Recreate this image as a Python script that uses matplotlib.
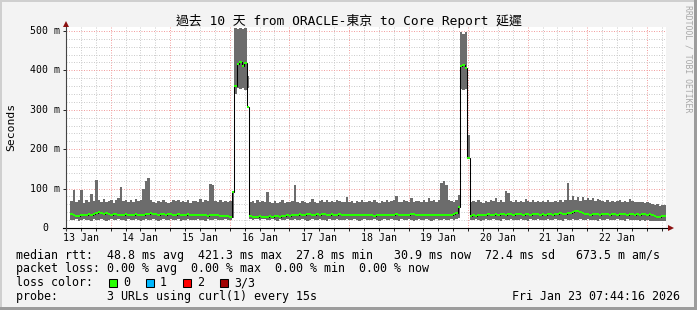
import numpy as np
import matplotlib
matplotlib.use("Agg")
import matplotlib.pyplot as plt
from matplotlib.patches import Rectangle
from matplotlib.lines import Line2D

# ---------------- data ----------------
title = "過去 10 天 from ORACLE-東京 to Core Report 延遲"
start_hour = 7 + 44 / 60 + 16 / 3600        # Jan 13 07:44:16
n_days = 10
day_labels = ["13 Jan", "14 Jan", "15 Jan", "16 Jan", "17 Jan",
              "18 Jan", "19 Jan", "20 Jan", "21 Jan", "22 Jan"]
y_ticks = [0, 100, 200, 300, 400, 500]
y_tick_labels = ["0", "100 m", "200 m", "300 m", "400 m", "500 m"]

# hourly values in ms (smoke top, smoke bottom, median)
smoke_top = [
    68, 96, 66, 70, 96, 64, 72, 66, 86, 68,
    122, 70, 66, 74, 65, 68, 72, 64, 70, 75,
    105, 68, 72, 65, 70, 66, 74, 68, 72, 100,
    118, 126, 70, 66, 64, 68, 65, 70, 66, 63,
    66, 70, 68, 72, 65, 68, 66, 70, 64, 69,
    68, 65, 74, 66, 70, 68, 112, 110, 69, 66,
    70, 67, 69, 66, 68, 95, 508, 505, 508, 504,
    507, 385, 66, 68, 64, 70, 66, 68, 65, 91,
    66, 64, 68, 63, 66, 70, 64, 67, 65, 68,
    109, 66, 64, 68, 65, 63, 67, 73, 66, 64,
    68, 70, 66, 72, 67, 69, 65, 70, 68, 66,
    67, 78, 66, 69, 64, 68, 66, 70, 65, 67,
    68, 66, 70, 67, 64, 69, 66, 71, 65, 68,
    70, 81, 67, 66, 70, 68, 65, 75, 66, 69,
    68, 66, 70, 67, 75, 68, 72, 66, 72, 115,
    120, 110, 72, 68, 66, 72, 84, 497, 493, 497,
    236, 66, 68, 65, 70, 67, 64, 69, 66, 70,
    68, 75, 66, 70, 67, 94, 88, 68, 66, 70,
    67, 69, 66, 73, 68, 65, 70, 67, 69, 66,
    68, 66, 70, 67, 65, 69, 67, 70, 66, 70,
    115, 72, 80, 70, 78, 68, 79, 72, 76, 70,
    77, 69, 74, 71, 68, 66, 70, 67, 69, 65,
    68, 70, 66, 69, 67, 73, 68, 66, 67, 65,
    66, 64, 65, 63, 62, 58, 60, 57, 59, 58,
]
smoke_bottom = [
    21, 20, 22, 19, 21, 22, 20, 21, 19, 22,
    21, 20, 22, 21, 19, 21, 22, 20, 21, 22,
    20, 21, 19, 22, 21, 20, 22, 21, 19, 21,
    22, 20, 21, 22, 20, 19, 21, 22, 20, 21,
    22, 21, 20, 22, 19, 21, 20, 22, 21, 20,
    21, 22, 20, 21, 19, 22, 21, 20, 22, 21,
    20, 21, 22, 20, 21, 26, 340, 355, 352, 355,
    350, 355, 22, 21, 23, 22, 21, 23, 22, 21,
    20, 22, 21, 19, 22, 21, 20, 22, 21, 20,
    22, 21, 20, 22, 21, 19, 21, 22, 20, 21,
    22, 20, 21, 19, 22, 21, 20, 22, 21, 20,
    21, 22, 20, 21, 22, 20, 19, 21, 22, 20,
    21, 20, 22, 21, 19, 21, 22, 20, 21, 22,
    20, 21, 19, 22, 21, 20, 22, 21, 19, 21,
    22, 20, 21, 22, 20, 19, 21, 22, 20, 21,
    22, 21, 20, 22, 21, 22, 25, 352, 350, 352,
    175, 21, 20, 22, 21, 19, 21, 22, 20, 21,
    22, 20, 21, 19, 22, 21, 20, 22, 21, 20,
    21, 22, 20, 21, 19, 22, 21, 20, 22, 21,
    20, 21, 22, 20, 21, 22, 20, 21, 19, 22,
    21, 20, 22, 21, 20, 22, 21, 20, 22, 21,
    20, 21, 19, 22, 21, 20, 22, 21, 20, 21,
    22, 20, 21, 19, 22, 21, 20, 21, 20, 19,
    20, 19, 20, 18, 19, 18, 19, 18, 19, 18,
]
median_rtt = [
    35, 34, 30, 31, 33, 34, 33, 35, 34, 36,
    38, 40, 37, 36, 39, 35, 34, 36, 35, 33,
    34, 33, 35, 32, 34, 33, 35, 34, 32, 34,
    36, 35, 37, 35, 36, 34, 35, 36, 34, 35,
    35, 34, 33, 35, 34, 32, 34, 35, 33, 34,
    33, 32, 34, 33, 32, 31, 33, 34, 32, 33,
    31, 30, 31, 30, 29, 92, 360, 415, 420, 410,
    418, 308, 31, 29, 28, 29, 30, 28, 29, 28,
    30, 29, 31, 30, 29, 31, 30, 32, 31, 33,
    33, 34, 35, 33, 34, 36, 35, 34, 33, 35,
    34, 36, 35, 33, 34, 35, 33, 34, 36, 34,
    33, 34, 32, 33, 34, 32, 33, 34, 33, 32,
    32, 33, 31, 32, 33, 32, 34, 33, 32, 34,
    33, 35, 34, 33, 32, 34, 33, 35, 36, 34,
    33, 32, 33, 34, 32, 33, 34, 33, 32, 33,
    34, 33, 32, 33, 35, 38, 53, 410, 413, 405,
    178, 31, 32, 31, 33, 32, 34, 33, 35, 34,
    33, 35, 34, 36, 35, 34, 35, 36, 34, 35,
    36, 35, 34, 36, 35, 34, 35, 36, 35, 34,
    35, 34, 36, 35, 34, 36, 35, 37, 36, 35,
    37, 38, 41, 43, 42, 40, 38, 36, 35, 34,
    35, 36, 35, 34, 35, 36, 35, 34, 36, 35,
    34, 35, 36, 35, 34, 36, 35, 34, 35, 34,
    35, 36, 34, 35, 34, 30, 29, 29, 30, 31,
]

legend_lines = [
    "median rtt:  48.8 ms avg  421.3 ms max  27.8 ms min   30.9 ms now  72.4 ms sd   673.5 m am/s",
    "packet loss: 0.00 % avg  0.00 % max  0.00 % min  0.00 % now",
    "loss color:",
    "probe:       3 URLs using curl(1) every 15s",
]
loss_labels = ["0", "1", "2", "3/3"]
loss_colors = ["#26ff00", "#00b8ff", "#ff0000", "#a00000"]
timestamp = "Fri Jan 23 07:44:16 2026"
watermark = "RRDTOOL / TOBI OETIKER"

# ---------------- figure ----------------
W, H = 697, 310
def fx(px):
    return px / W
def fy(py):
    return 1 - py / H

MONO = "DejaVu Sans Mono"
fig = plt.figure(figsize=(W / 100, H / 100), dpi=100, facecolor="#f3f3f3")

# 3D-ish border
fig.add_artist(Rectangle((0, fy(2)), 1, 2 / H, transform=fig.transFigure, color="#cfcfcf", lw=0))
fig.add_artist(Rectangle((0, 0), 2 / W, 1, transform=fig.transFigure, color="#cfcfcf", lw=0))
fig.add_artist(Rectangle((0, 0), 1, 3 / H, transform=fig.transFigure, color="#9c9c9c", lw=0))
fig.add_artist(Rectangle((1 - 3 / W, 0), 3 / W, 1, transform=fig.transFigure, color="#9c9c9c", lw=0))

ax = fig.add_axes([fx(66), fy(228), 600 / W, 201 / H])
ax.set_facecolor("white")
t0 = start_hour / 24
ax.set_xlim(t0, t0 + n_days)
ax.set_ylim(0, 510)
for s in ax.spines.values():
    s.set_visible(False)

# grid
ax.set_xticks(np.arange(1, n_days + 1))
ax.set_xticks(np.arange(0.25, n_days + 0.5, 0.25), minor=True)
ax.set_yticks(y_ticks)
ax.set_yticks(np.arange(0, 511, 20), minor=True)
ax.grid(which="minor", color="#cdcdcd", lw=0.72, ls=(0, (1, 1.5)), zorder=0)
ax.grid(which="major", color="#f2a0a0", lw=0.72, ls=(0, (1, 1.5)), zorder=0.5)
ax.set_axisbelow(True)
ax.tick_params(axis="both", which="both", labelbottom=False, labelleft=False)
ax.tick_params(axis="x", which="both", direction="out", length=2, width=0.7, color="#222222")
ax.tick_params(axis="y", which="major", direction="out", length=2, width=0.7, color="#222222")
ax.tick_params(axis="y", which="minor", length=0)

# smoke + median
hours = np.arange(len(median_rtt) + 1)
edges = t0 + hours / 24
ax.stairs(smoke_top, edges, baseline=smoke_bottom, fill=True, color="#6c6c6c", zorder=2)
ax.stairs(median_rtt, edges, baseline=None, color="black", lw=0.75, zorder=3)
ax.hlines(median_rtt, edges[:-1], edges[1:], color=loss_colors[0], lw=1.45,
          zorder=4, capstyle="butt")

# axes lines + arrows
ax.add_line(Line2D([-0.005, 1.008], [0, 0], transform=ax.transAxes, color="black",
                   lw=0.8, clip_on=False, zorder=5))
ax.add_line(Line2D([0, 0], [-0.012, 1.015], transform=ax.transAxes, color="#444444",
                   lw=0.8, clip_on=False, zorder=5))
ax.plot([1.008], [0], marker=">", ms=4, color="#8b1010", transform=ax.transAxes,
        clip_on=False, zorder=6, mew=0)
ax.plot([0], [1.015], marker="^", ms=4, color="#8b1010", transform=ax.transAxes,
        clip_on=False, zorder=6, mew=0)

# tick labels
ytr = ax.get_yaxis_transform()
for v, lab in zip(y_ticks, y_tick_labels):
    xr = (59.5 - 66) / 600 if lab != "0" else (48.5 - 66) / 600
    ax.text(xr, v, lab, transform=ytr, ha="right", va="center",
            fontsize=7.1, family=MONO, color="#000000")
xtr = ax.get_xaxis_transform()
for d, lab in enumerate(day_labels):
    ax.text(d + 0.5, -10 / 201, lab, transform=xtr, ha="center", va="center",
            fontsize=7.1, family=MONO, color="#000000")

# titles
fig.text(fx(348.5), fy(21), title, ha="center", va="center", fontsize=9.3,
         family=[MONO, "Noto Sans CJK TC"], color="#000000")
fig.text(fx(11), fy(127), "Seconds", rotation=90, ha="center", va="center",
         fontsize=8.2, family=MONO, color="#000000")
fig.text(fx(688), fy(59), watermark, rotation=270, ha="center", va="center",
         fontsize=5.9, family=MONO, color="#a8a8a8")

# legend
line_y = [255, 268.5, 282.5, 296.5]
for yy, txt in zip(line_y, legend_lines):
    fig.text(fx(16), fy(yy), txt, ha="left", va="center", fontsize=8.35,
             family=MONO, color="#000000")
box_x = [108.5, 145.5, 182.5, 219.5]
for bx, col, lab in zip(box_x, loss_colors, loss_labels):
    fig.add_artist(Rectangle((fx(bx), fy(287)), 8.5 / W, 8.5 / H, transform=fig.transFigure,
                             facecolor=col, edgecolor="black", lw=0.75))
    fig.text(fx(bx + 14.5), fy(282.5), lab, ha="left", va="center", fontsize=8.35,
             family=MONO, color="#000000")
fig.text(fx(680), fy(296.5), timestamp, ha="right", va="center", fontsize=8.35,
         family=MONO, color="#000000")

fig.savefig("out.png", dpi=100, facecolor=fig.get_facecolor())
